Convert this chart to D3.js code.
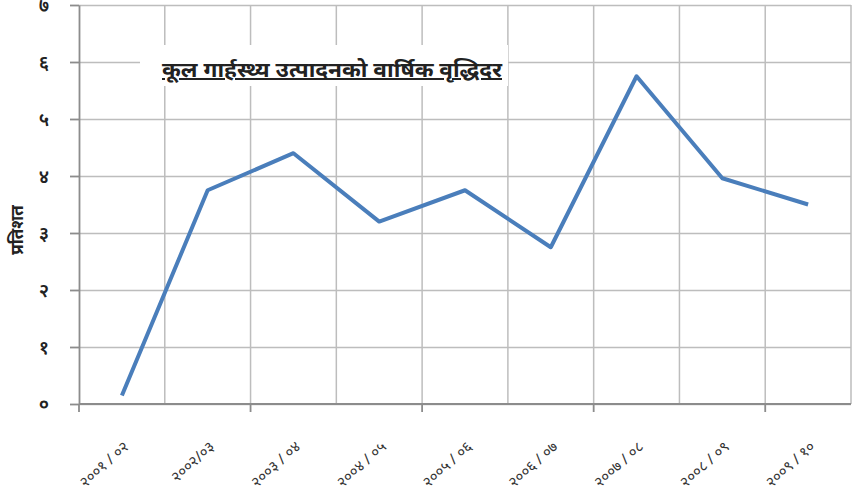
<html>
<head>
<meta charset="utf-8">
<script src="https://d3js.org/d3.v7.min.js"></script>
<style>
  body { margin: 0; background: #fff; }
  svg { display: block; }
  text { font-family: 'Noto Sans', 'DejaVu Sans', sans-serif; fill: #222; }
  .grid line { stroke: #bdbdbd; stroke-width: 1.5; }
  .grid path { stroke-width: 0; }
  .axis path, .axis line { stroke: #8c8c8c; stroke-width: 1.8; }
  .axis text { font-size: 19px; font-weight: 600; fill: #222; }
  .axis text.xl { font-size: 15px; font-weight: 400; fill: #333; }
  .series { fill: none; stroke: #4a7ebb; stroke-width: 4; stroke-linejoin: round; }
  .title { font-size: 20px; font-weight: 700; text-decoration: underline; }
  .ylabel { font-size: 17px; font-weight: 700; }
</style>
</head>
<body>
<svg width="857" height="495"></svg>
<script>
const categories = ['२००१ / ०२', '२००२/०३', '२००३ / ०४', '२००४ / ०५', '२००५ / ०६',
                    '२००६ / ०७', '२००७ / ०८', '२००८ / ०९', '२००९ / १०'];
const growth = [0.15, 3.75, 4.4, 3.2, 3.75, 2.75, 5.75, 3.96, 3.5];
const yTicks = [0, 1, 2, 3, 4, 5, 6, 7];
const yTickLabels = ['०', '१', '२', '३', '४', '५', '६', '७'];

const svg = d3.select('svg');

const plotLeft = 79, plotRight = 851, plotTop = 5, plotBottom = 404;

const x = d3.scaleBand()
  .domain(categories)
  .range([plotLeft, plotRight])
  .padding(0);

const y = d3.scaleLinear()
  .domain([0, 7])
  .range([plotBottom, plotTop]);

// horizontal grid
svg.append('g')
  .attr('class', 'grid')
  .attr('transform', `translate(${plotLeft},0)`)
  .call(d3.axisLeft(y).tickValues(yTicks).tickSize(-(plotRight - plotLeft)).tickFormat(''));

// vertical grid at category boundaries
const bounds = categories.slice(1).map(c => x(c)).concat([x.range()[1]]);
svg.append('g')
  .attr('class', 'grid')
  .selectAll('line')
  .data(bounds)
  .enter()
  .append('line')
  .attr('x1', d => d).attr('x2', d => d)
  .attr('y1', plotTop).attr('y2', plotBottom);

// title box
const titleBox = svg.append('g');
titleBox.append('rect')
  .attr('x', 140).attr('y', 45)
  .attr('width', 368).attr('height', 41)
  .attr('fill', '#fff');
titleBox.append('text')
  .attr('class', 'title')
  .attr('x', 162).attr('y', 77)
  .attr('textLength', 340)
  .attr('lengthAdjust', 'spacingAndGlyphs')
  .text('कूल गार्हस्थ्य उत्पादनको वार्षिक वृद्धिदर');

// y axis
svg.append('g')
  .attr('class', 'axis')
  .attr('transform', `translate(${plotLeft},0)`)
  .call(d3.axisLeft(y).tickValues(yTicks).tickSize(9).tickSizeOuter(0)
    .tickPadding(21).tickFormat((d, i) => yTickLabels[i]));

// x axis line + ticks on every other boundary
const xAxis = svg.append('g').attr('class', 'axis');
xAxis.append('line')
  .attr('x1', plotLeft).attr('x2', plotRight)
  .attr('y1', plotBottom).attr('y2', plotBottom);
xAxis.selectAll('.tk')
  .data(categories.filter((c, i) => i % 2 === 0))
  .enter()
  .append('line')
  .attr('class', 'tk')
  .attr('x1', d => x(d)).attr('x2', d => x(d))
  .attr('y1', plotBottom).attr('y2', plotBottom + 8);

xAxis.selectAll('.xl')
  .data(categories)
  .enter()
  .append('text')
  .attr('class', 'xl')
  .attr('text-anchor', 'end')
  .attr('transform', d => `translate(${x(d) + x.bandwidth() / 2 + 8},${plotBottom + 44}) rotate(-42)`)
  .text(d => d);

// series line
const line = d3.line()
  .x((d, i) => x(categories[i]) + x.bandwidth() / 2)
  .y(d => y(d));

svg.append('path')
  .datum(growth)
  .attr('class', 'series')
  .attr('d', line);

// y label
svg.append('text')
  .attr('class', 'ylabel')
  .attr('transform', 'translate(23,230) rotate(-90)')
  .attr('text-anchor', 'middle')
  .text('प्रतिशत');
</script>
</body>
</html>
